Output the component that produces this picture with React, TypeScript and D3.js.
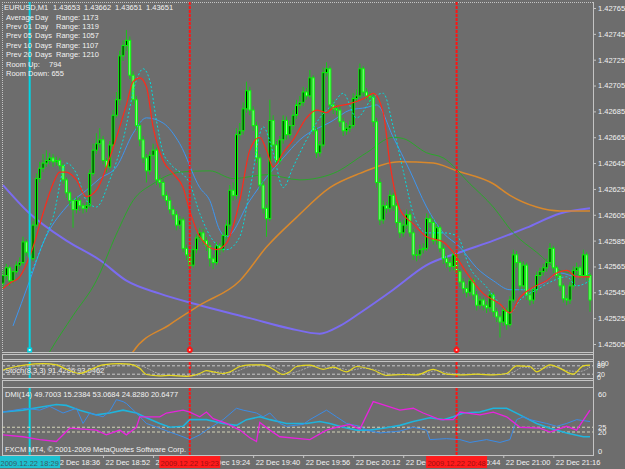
import React, { useEffect, useRef } from 'react'
import * as d3 from 'd3'

// EURUSD M1 bars
const opens = [
  1.42552, 1.42558, 1.42564, 1.42554, 1.42561, 1.42566, 1.42568, 1.42584, 1.42576, 1.42571,
  1.42597, 1.42633, 1.42641, 1.42645, 1.42647, 1.42649, 1.42646, 1.42647, 1.42643, 1.42632,
  1.42622, 1.42616, 1.42609, 1.42616, 1.42612, 1.4261, 1.42612, 1.42637, 1.42655, 1.4266,
  1.42663, 1.42647, 1.42642, 1.42659, 1.42682, 1.42694, 1.42728, 1.42736, 1.4274, 1.42713,
  1.42694, 1.42674, 1.42663, 1.42649, 1.42639, 1.42651, 1.42655, 1.42632, 1.4263, 1.4262,
  1.42616, 1.42609, 1.42605, 1.42597, 1.42601, 1.42579, 1.42574, 1.42566, 1.42578, 1.42587,
  1.42591, 1.42585, 1.42581, 1.42571, 1.42568, 1.42581, 1.42578, 1.42589, 1.42597, 1.42624,
  1.4262, 1.42667, 1.4267, 1.42687, 1.42701, 1.42686, 1.42674, 1.42649, 1.42628, 1.4261,
  1.42602, 1.42678, 1.42659, 1.42647, 1.42663, 1.42678, 1.42667, 1.42674, 1.42682, 1.4269,
  1.42692, 1.427, 1.42697, 1.42711, 1.4267, 1.42653, 1.42659, 1.42715, 1.42718, 1.4269,
  1.42687, 1.42686, 1.42677, 1.4267, 1.42672, 1.42674, 1.42695, 1.42697, 1.42718, 1.427,
  1.42697, 1.42696, 1.42677, 1.4263, 1.42601, 1.42612, 1.4261, 1.4262, 1.42612, 1.42599,
  1.42591, 1.42597, 1.42605, 1.42591, 1.42574, 1.42574, 1.42578, 1.42579, 1.42602, 1.42599,
  1.42585, 1.42595, 1.42579, 1.42571, 1.42568, 1.42565, 1.42574, 1.42561, 1.42553, 1.42548,
  1.42545, 1.42554, 1.42543, 1.42535, 1.42539, 1.42535, 1.42533, 1.42543, 1.4253, 1.42526,
  1.42522, 1.42531, 1.4252, 1.42539, 1.42574, 1.42568, 1.4255, 1.42566, 1.42543, 1.42539,
  1.42547, 1.42558, 1.42561, 1.42564, 1.42568, 1.42579, 1.42564, 1.42558, 1.4255, 1.4254,
  1.42539, 1.4255, 1.42562, 1.42564, 1.42558, 1.42574, 1.42558,
]
const highs = [
  1.42562, 1.42567, 1.42566, 1.42563, 1.42569, 1.42572, 1.42588, 1.42586, 1.42578, 1.426,
  1.42637, 1.42646, 1.42652, 1.42655, 1.42653, 1.42652, 1.4265, 1.42649, 1.42645, 1.42634,
  1.42624, 1.42618, 1.42619, 1.42618, 1.42614, 1.42615, 1.4264, 1.4266, 1.42668, 1.42672,
  1.42666, 1.42649, 1.42662, 1.42686, 1.427, 1.42732, 1.4274, 1.42748, 1.42743, 1.42716,
  1.42697, 1.42677, 1.42666, 1.42652, 1.42654, 1.4266, 1.42657, 1.42636, 1.42633, 1.42623,
  1.42619, 1.42612, 1.42608, 1.42604, 1.42603, 1.42582, 1.42577, 1.42581, 1.4259, 1.42595,
  1.42594, 1.42588, 1.42584, 1.42574, 1.42584, 1.42583, 1.42592, 1.42601, 1.42628, 1.4263,
  1.42672, 1.42676, 1.42692, 1.42708, 1.42704, 1.42689, 1.42677, 1.42652, 1.42631, 1.42613,
  1.42694, 1.42682, 1.42662, 1.42666, 1.42682, 1.42681, 1.42678, 1.42686, 1.42694, 1.42697,
  1.42704, 1.42703, 1.42717, 1.42713, 1.42673, 1.42662, 1.42719, 1.42723, 1.4272, 1.42694,
  1.4269, 1.42689, 1.4268, 1.42676, 1.42678, 1.42699, 1.42702, 1.42722, 1.4272, 1.42703,
  1.427, 1.42699, 1.4268, 1.42633, 1.42616, 1.42615, 1.42624, 1.42622, 1.42614, 1.42602,
  1.42601, 1.42609, 1.42608, 1.42594, 1.42578, 1.42582, 1.42583, 1.42606, 1.42605, 1.42602,
  1.42598, 1.42597, 1.42582, 1.42574, 1.42571, 1.42577, 1.42577, 1.42563, 1.42556, 1.42551,
  1.42557, 1.42556, 1.42546, 1.42542, 1.42541, 1.42538, 1.42546, 1.42545, 1.42533, 1.42528,
  1.42534, 1.42533, 1.42542, 1.42578, 1.42577, 1.4257, 1.42569, 1.42568, 1.42546, 1.4255,
  1.42561, 1.42564, 1.42567, 1.42571, 1.42583, 1.42581, 1.42566, 1.42561, 1.42552, 1.42543,
  1.42553, 1.42565, 1.42568, 1.42566, 1.42578, 1.42576, 1.4256,
]
const lows = [
  1.42548, 1.42555, 1.4255, 1.42552, 1.42559, 1.42563, 1.42566, 1.42573, 1.42566, 1.42569,
  1.42595, 1.4263, 1.42638, 1.42642, 1.42644, 1.42642, 1.42643, 1.4264, 1.42629, 1.42618,
  1.42612, 1.42595, 1.42606, 1.42608, 1.42606, 1.42607, 1.4261, 1.42635, 1.42652, 1.42657,
  1.42644, 1.42638, 1.4264, 1.42657, 1.4268, 1.4269, 1.42724, 1.42732, 1.4271, 1.4269,
  1.4267, 1.42658, 1.42645, 1.4263, 1.42636, 1.42648, 1.42628, 1.42626, 1.42617, 1.42612,
  1.42606, 1.42601, 1.42593, 1.42594, 1.42576, 1.4257, 1.42562, 1.42564, 1.42575, 1.42584,
  1.42582, 1.42577, 1.42565, 1.42563, 1.42566, 1.42574, 1.42576, 1.42586, 1.42594, 1.42616,
  1.42617, 1.42663, 1.42667, 1.42684, 1.42682, 1.4267, 1.42645, 1.42624, 1.42606, 1.42588,
  1.426, 1.42655, 1.42642, 1.42644, 1.4266, 1.42663, 1.42664, 1.42671, 1.42679, 1.42687,
  1.42689, 1.42694, 1.42695, 1.42667, 1.42649, 1.4265, 1.42657, 1.42712, 1.42686, 1.42683,
  1.42682, 1.42673, 1.42666, 1.42667, 1.42669, 1.42672, 1.42692, 1.42695, 1.42697, 1.42694,
  1.42692, 1.42673, 1.42626, 1.42597, 1.42598, 1.42606, 1.42607, 1.42608, 1.42595, 1.42587,
  1.42588, 1.42594, 1.42588, 1.4257, 1.42569, 1.42571, 1.42575, 1.42577, 1.42595, 1.42582,
  1.42582, 1.42576, 1.42567, 1.42564, 1.42561, 1.42562, 1.42557, 1.42549, 1.42544, 1.42541,
  1.42542, 1.42539, 1.42531, 1.42532, 1.42531, 1.42529, 1.4253, 1.42526, 1.42522, 1.4251,
  1.42519, 1.42516, 1.42518, 1.42537, 1.42564, 1.42546, 1.42547, 1.42539, 1.42535, 1.42536,
  1.42544, 1.42555, 1.42558, 1.42561, 1.42566, 1.4256, 1.42555, 1.42546, 1.42537, 1.42535,
  1.42536, 1.42547, 1.42559, 1.42555, 1.42556, 1.42554, 1.4253,
]
const closes = [
  1.42558, 1.42564, 1.42554, 1.42561, 1.42566, 1.42568, 1.42584, 1.42576, 1.42571, 1.42597,
  1.42633, 1.42641, 1.42645, 1.42647, 1.42649, 1.42646, 1.42647, 1.42643, 1.42632, 1.42622,
  1.42616, 1.42609, 1.42616, 1.42612, 1.4261, 1.42612, 1.42637, 1.42655, 1.4266, 1.42663,
  1.42647, 1.42642, 1.42659, 1.42682, 1.42694, 1.42728, 1.42736, 1.4274, 1.42713, 1.42694,
  1.42674, 1.42663, 1.42649, 1.42639, 1.42651, 1.42655, 1.42632, 1.4263, 1.4262, 1.42616,
  1.42609, 1.42605, 1.42597, 1.42601, 1.42579, 1.42574, 1.42566, 1.42578, 1.42587, 1.42591,
  1.42585, 1.42581, 1.42571, 1.42568, 1.42581, 1.42578, 1.42589, 1.42597, 1.42624, 1.4262,
  1.42667, 1.4267, 1.42687, 1.42701, 1.42686, 1.42674, 1.42649, 1.42628, 1.4261, 1.42602,
  1.42678, 1.42659, 1.42647, 1.42663, 1.42678, 1.42667, 1.42674, 1.42682, 1.4269, 1.42692,
  1.427, 1.42697, 1.42711, 1.4267, 1.42653, 1.42659, 1.42715, 1.42718, 1.4269, 1.42687,
  1.42686, 1.42677, 1.4267, 1.42672, 1.42674, 1.42695, 1.42697, 1.42718, 1.427, 1.42697,
  1.42696, 1.42677, 1.4263, 1.42601, 1.42612, 1.4261, 1.4262, 1.42612, 1.42599, 1.42591,
  1.42597, 1.42605, 1.42591, 1.42574, 1.42574, 1.42578, 1.42579, 1.42602, 1.42599, 1.42585,
  1.42595, 1.42579, 1.42571, 1.42568, 1.42565, 1.42574, 1.42561, 1.42553, 1.42548, 1.42545,
  1.42554, 1.42543, 1.42535, 1.42539, 1.42535, 1.42533, 1.42543, 1.4253, 1.42526, 1.42522,
  1.42531, 1.4252, 1.42539, 1.42574, 1.42568, 1.4255, 1.42566, 1.42543, 1.42539, 1.42547,
  1.42558, 1.42561, 1.42564, 1.42568, 1.42579, 1.42564, 1.42558, 1.4255, 1.4254, 1.42539,
  1.4255, 1.42562, 1.42564, 1.42558, 1.42574, 1.42558, 1.42539,
]

// moving averages on the price window: [bar, price]
const maRed: [number, number][] = [
  [0, 1.42548], [2, 1.42552], [5, 1.42557], [9, 1.4258], [12, 1.42606], [15, 1.42629], [17, 1.42638],
  [19, 1.42638], [22, 1.42632], [25, 1.42619], [28, 1.42624], [32, 1.42649], [35, 1.42673],
  [37, 1.4269], [39, 1.42708], [41, 1.42711], [43, 1.42704], [45, 1.42673], [48, 1.42647],
  [51, 1.42637], [54, 1.42626], [56, 1.42608], [59, 1.42588], [64, 1.42578], [67, 1.42583],
  [71, 1.42616], [74, 1.42655], [77, 1.42665], [79, 1.42655], [81, 1.42642], [84, 1.42653],
  [87, 1.42663], [91, 1.4268], [94, 1.42686], [97, 1.42684], [99, 1.42688], [104, 1.42691],
  [109, 1.42696], [111, 1.42699], [114, 1.42684], [116, 1.42645], [119, 1.42609], [123, 1.42598],
  [127, 1.42588], [132, 1.42584], [135, 1.42576], [139, 1.4256], [144, 1.42544], [149, 1.42536],
  [152, 1.42529], [155, 1.42541], [159, 1.42549], [163, 1.42554], [166, 1.4256], [169, 1.42562],
  [172, 1.42557], [176, 1.42557],
]
const maCyan: [number, number][] = [
  [8, 1.42557], [12, 1.42583], [15, 1.42603], [19, 1.42645], [22, 1.42637], [25, 1.42616],
  [28, 1.42611], [32, 1.42632], [36, 1.42663], [40, 1.42709], [42, 1.42718], [44, 1.42709],
  [46, 1.42678], [48, 1.42653], [50, 1.42645], [56, 1.42629], [59, 1.42606], [63, 1.42585],
  [67, 1.42578], [71, 1.42588], [74, 1.42624], [78, 1.42673], [81, 1.42653], [84, 1.42626],
  [87, 1.42642], [91, 1.42663], [95, 1.4268], [99, 1.42691], [102, 1.42699], [106, 1.4268],
  [111, 1.42696], [114, 1.42699], [117, 1.42673], [120, 1.42639], [123, 1.42606], [127, 1.42591],
  [132, 1.42591], [136, 1.42589], [140, 1.42564], [145, 1.42549], [149, 1.42536], [152, 1.42529],
  [155, 1.42539], [160, 1.42547], [165, 1.42554], [169, 1.42557], [172, 1.4255], [176, 1.42554],
]
const maBlue: [number, number][] = [
  [3, 1.42519], [8, 1.42554], [12, 1.42583], [19, 1.42611], [25, 1.42624], [29, 1.42633],
  [34, 1.42642], [39, 1.42668], [43, 1.4268], [48, 1.42676], [53, 1.4266], [59, 1.42626],
  [62, 1.42616], [65, 1.42593], [67, 1.42588], [74, 1.42616], [79, 1.42634], [84, 1.42649],
  [89, 1.42663], [99, 1.42678], [104, 1.42686], [109, 1.42688], [112, 1.4269], [117, 1.42665],
  [122, 1.42639], [127, 1.42611], [132, 1.42591], [137, 1.4258], [142, 1.42564], [147, 1.42554],
  [152, 1.42547], [157, 1.42547], [162, 1.42552], [167, 1.4256], [172, 1.42557], [176, 1.4256],
]
const maGreen: [number, number][] = [
  [12, 1.4249], [14, 1.42499], [21, 1.42527], [28, 1.42554], [34, 1.4259], [39, 1.42616],
  [45, 1.42629], [53, 1.42638], [62, 1.42639], [69, 1.42633], [79, 1.42636], [89, 1.42632],
  [99, 1.42637], [109, 1.42653], [117, 1.42665], [120, 1.42664], [127, 1.42653], [132, 1.42649],
  [140, 1.42629], [147, 1.42611], [153, 1.42591], [160, 1.42576], [167, 1.42562], [176, 1.42558],
]
const maOrange: [number, number][] = [
  [37, 1.4249], [39, 1.42499], [50, 1.4252], [59, 1.42535], [71, 1.42554], [79, 1.4258],
  [88, 1.42603], [98, 1.42626], [107, 1.42637], [119, 1.42646], [129, 1.42645], [136, 1.42639],
  [147, 1.42629], [152, 1.4262], [160, 1.42611], [167, 1.42608], [176, 1.42608],
]
const maPurple: [number, number][] = [
  [0, 1.42628], [8, 1.42606], [19, 1.42585], [29, 1.4257], [37, 1.42554], [47, 1.42544],
  [59, 1.42535], [74, 1.42525], [86, 1.42517], [95, 1.42513], [101, 1.42519], [107, 1.42529],
  [117, 1.42547], [127, 1.42566], [137, 1.42576], [147, 1.42585], [157, 1.42595], [167, 1.42606],
  [176, 1.4261],
]

// Stochastic(8,3,3): [bar, value]
const stochMain: [number, number][] = [
  [0, 50], [4, 75], [7, 87], [12, 95], [16, 87], [19, 55], [23, 25], [26, 50], [30, 87], [35, 95],
  [38, 92], [41, 62], [43, 18], [47, 8], [50, 12], [55, 5], [59, 25], [61, 45], [63, 37], [66, 25],
  [68, 37], [71, 75], [74, 87], [78, 87], [81, 55], [84, 18], [86, 37], [88, 75], [92, 85], [96, 55],
  [99, 70], [103, 37], [106, 75], [111, 50], [115, 12], [120, 18], [124, 15], [129, 55], [133, 20],
  [137, 15], [142, 20], [147, 15], [151, 25], [154, 80], [158, 75], [160, 37], [164, 87], [167, 62],
  [171, 20], [174, 80], [176, 85],
]
const stochSignal: [number, number][] = [
  [0, 45], [5, 65], [9, 82], [14, 92], [18, 85], [21, 60], [25, 35], [28, 45], [32, 75], [37, 90],
  [40, 88], [43, 65], [46, 30], [49, 12], [53, 10], [57, 10], [61, 22], [64, 38], [67, 32], [70, 40],
  [73, 70], [77, 85], [80, 80], [83, 55], [86, 28], [89, 45], [92, 72], [95, 80], [98, 62], [101, 62],
  [104, 48], [108, 62], [113, 45], [117, 18], [122, 16], [126, 25], [130, 45], [134, 28], [139, 17],
  [144, 18], [149, 17], [153, 35], [156, 70], [160, 60], [163, 65], [166, 75], [169, 45], [173, 40],
  [176, 70],
]

// DMI(14): [bar, value]
const dmiMagenta: [number, number][] = [
  [0, 17], [6, 15], [11, 12], [16, 10], [20, 24], [28, 22], [31, 17], [35, 22], [37, 17], [40, 25],
  [41, 36], [47, 36], [49, 40], [54, 43], [56, 41], [59, 36], [61, 41], [63, 34], [67, 29], [71, 22],
  [74, 14], [76, 10], [77, 30], [80, 22], [83, 15], [92, 12], [97, 22], [100, 25], [104, 28],
  [107, 23], [111, 52], [119, 43], [123, 45], [126, 40], [131, 33], [135, 33], [137, 41], [143, 38],
  [147, 41], [151, 36], [155, 25], [161, 24], [164, 20], [169, 26], [172, 22], [176, 43],
]
const dmiBlue: [number, number][] = [
  [0, 41], [7, 45], [11, 43], [14, 47], [18, 40], [22, 45], [24, 29], [26, 40], [30, 36], [32, 42],
  [34, 54], [36, 52], [37, 50], [40, 40], [43, 29], [47, 24], [50, 20], [54, 15], [56, 12], [59, 17],
  [61, 22], [66, 33], [70, 45], [72, 43], [76, 40], [78, 36], [80, 40], [83, 29], [85, 26], [90, 28],
  [92, 33], [97, 43], [100, 36], [103, 29], [107, 26], [109, 22], [113, 19], [119, 21], [123, 25],
  [127, 22], [128, 12], [133, 13], [137, 12], [140, 9], [145, 12], [149, 9], [152, 12], [154, 33],
  [156, 36], [158, 33], [163, 29], [166, 26], [169, 29], [172, 33], [176, 31],
]
const dmiAdx: [number, number][] = [
  [0, 41], [6, 43], [11, 46], [16, 49], [19, 48], [23, 43], [28, 38], [32, 40], [36, 43], [40, 40],
  [43, 35], [47, 29], [50, 25], [54, 26], [56, 33], [61, 33], [66, 29], [70, 27], [73, 33], [77, 36],
  [80, 33], [85, 29], [91, 29], [95, 31], [98, 29], [102, 25], [106, 22], [110, 22], [114, 24],
  [119, 27], [123, 31], [128, 35], [132, 33], [135, 36], [138, 40], [143, 41], [147, 45], [151, 45],
  [155, 38], [160, 29], [164, 24], [169, 19], [174, 15], [176, 15],
]

const priceTicks = [
  1.42765, 1.42745, 1.42725, 1.42705, 1.42685, 1.42665, 1.42645,
  1.42625, 1.42605, 1.42585, 1.42565, 1.42545, 1.42525, 1.42505,
]
const timeTickBars = [0, 15, 30, 45, 60, 75, 90, 105, 120, 135, 150, 165]
const timeTickLabels = [
  '22 Dec 18:20', '22 Dec 18:36', '22 Dec 18:52', '22 Dec 19:08', '22 Dec 19:24', '22 Dec 19:40',
  '22 Dec 19:56', '22 Dec 20:12', '22 Dec 20:28', '22 Dec 20:44', '22 Dec 21:00', '22 Dec 21:16',
]
// vertical line objects
const vlines = [
  { bar: 8, color: '#00d4e4', label: '2009.12.22 18:29', box: '#1ec0d0', text: '#3c5a60' },
  { bar: 56, color: '#ff1414', label: '2009.12.22 19:23', box: '#ff1c1c', text: '#a01010' },
  { bar: 136, color: '#ff1414', label: '2009.12.22 20:48', box: '#ff1c1c', text: '#a01010' },
]

const header = ['EURUSD,M1', '1.43653', '1.43662', '1.43651', '1.43651']
const rangeRows = [
  ['Average', 'Day', 'Range: 1173'],
  ['Prev 01', 'Day', 'Range: 1319'],
  ['Prev 05', 'Days', 'Range: 1057'],
  ['Prev 10', 'Days', 'Range: 1107'],
  ['Prev 20', 'Days', 'Range: 1210'],
]
const roomUp = 794
const roomDown = 655

const BG = '#6d6d6d'
const FRAME = '#c4c4c4'
const TXT = '#f2f2f2'
const FONT = '"Liberation Sans", Arial, sans-serif'

export default function App() {
  const ref = useRef<SVGSVGElement>(null)

  useEffect(() => {
    const svg = d3.select(ref.current)
    svg.selectAll('*').remove()

    const L = 2
    const R = 593
    const x = d3.scaleLinear().domain([0, closes.length - 1]).range([3, 590])
    const y = d3.scaleLinear().domain([1.42505, 1.42765]).range([344, 8])
    const yS = d3.scaleLinear().domain([0, 100]).range([377, 363])
    const yD = d3.scaleLinear().domain([0, 60]).range([451, 394])

    svg.append('rect').attr('width', 625).attr('height', 469).attr('fill', BG)

    const defs = svg.append('defs')
    const addClip = (id: string, y0: number, y1: number) =>
      defs.append('clipPath').attr('id', id)
        .append('rect').attr('x', L).attr('y', y0).attr('width', R - L).attr('height', y1 - y0)
    addClip('cMain', 3, 352)
    addClip('cStoch', 362, 378)
    addClip('cDmi', 388, 455)

    // ---- frames
    const fr = svg.append('g').attr('fill', 'none').attr('stroke', FRAME).attr('stroke-width', 1)
    fr.append('line').attr('x1', L + 0.5).attr('x2', L + 0.5).attr('y1', 2).attr('y2', 352)
      .attr('stroke-dasharray', '1,1')
    fr.append('line').attr('x1', L).attr('x2', R).attr('y1', 2.5).attr('y2', 2.5).attr('stroke-dasharray', '1,1')
    ;[352.5, 354.5, 359.5, 361.5, 378.5, 380.5, 387.5, 455.5].forEach(yy =>
      fr.append('line').attr('x1', L).attr('x2', R).attr('y1', yy).attr('y2', yy))
    ;[[354, 360], [361, 379], [380, 456]].forEach(([a, b]) =>
      fr.append('line').attr('x1', L + 0.5).attr('x2', L + 0.5).attr('y1', a).attr('y2', b))
    fr.append('line').attr('x1', R + 0.5).attr('x2', R + 0.5).attr('y1', 2).attr('y2', 456)

    // ---- main panel
    const main = svg.append('g').attr('clip-path', 'url(#cMain)')
    const line = (yy: d3.ScaleLinear<number, number>, curve = d3.curveMonotoneX) =>
      d3.line<[number, number]>().x(d => x(d[0])).y(d => yy(d[1])).curve(curve)

    main.append('path').attr('d', line(y)(maPurple)).attr('fill', 'none')
      .attr('stroke', '#7b6cf0').attr('stroke-width', 2)
    main.append('path').attr('d', line(y)(maOrange)).attr('fill', 'none')
      .attr('stroke', '#d8882c').attr('stroke-width', 1.5)
    main.append('path').attr('d', line(y)(maGreen)).attr('fill', 'none')
      .attr('stroke', '#2aa82a').attr('stroke-width', 1)
    main.append('path').attr('d', line(y)(maBlue)).attr('fill', 'none')
      .attr('stroke', '#3e96f0').attr('stroke-width', 1)

    const idx = d3.range(closes.length)
    main.selectAll('line.wick').data(idx).join('line')
      .attr('x1', i => x(i)).attr('x2', i => x(i))
      .attr('y1', i => y(highs[i])).attr('y2', i => y(lows[i]))
      .attr('stroke', '#18c818').attr('stroke-width', 1)
    main.selectAll('rect.body').data(idx).join('rect')
      .attr('x', i => x(i) - 1).attr('width', 2)
      .attr('y', i => y(Math.max(opens[i], closes[i])))
      .attr('height', i => Math.max(0.6, Math.abs(y(opens[i]) - y(closes[i]))))
      .attr('fill', i => (closes[i] >= opens[i] ? '#000' : '#98f898'))
      .attr('stroke', '#00ff00').attr('stroke-width', 1)

    main.append('path').attr('d', line(y)(maCyan)).attr('fill', 'none')
      .attr('stroke', '#00dede').attr('stroke-width', 1).attr('stroke-dasharray', '2,2')
    main.append('path').attr('d', line(y)(maRed)).attr('fill', 'none')
      .attr('stroke', '#ff2a1a').attr('stroke-width', 1.2)

    // vertical lines through each panel
    const vpanels = [[2, 352], [362, 378], [388, 455]]
    vlines.forEach(v => {
      vpanels.forEach(([a, b]) => {
        svg.append('line').attr('x1', x(v.bar)).attr('x2', x(v.bar)).attr('y1', a).attr('y2', b)
          .attr('stroke', v.color).attr('stroke-width', 2)
          .attr('stroke-dasharray', v.bar === 8 ? null : '3,1')
      })
    })
    vlines.forEach(v => {
      const cx = x(v.bar)
      if (v.bar === 8) {
        svg.append('rect').attr('x', cx - 2.5).attr('y', 347.5).attr('width', 5).attr('height', 5)
          .attr('fill', v.color)
        svg.append('rect').attr('x', cx - 1).attr('y', 349).attr('width', 2).attr('height', 2).attr('fill', '#e8ffff')
      } else {
        svg.append('circle').attr('cx', cx).attr('cy', 350).attr('r', 3).attr('fill', v.color)
        svg.append('circle').attr('cx', cx).attr('cy', 350).attr('r', 1).attr('fill', '#ffd0d0')
      }
    })

    // price axis
    const ya = svg.append('g').attr('transform', `translate(${R},0)`)
      .call(d3.axisRight(y).tickValues(priceTicks).tickSize(3).tickPadding(2)
        .tickFormat(d => (d as number).toFixed(5)))
    ya.select('.domain').remove()
    ya.selectAll('line').attr('stroke', FRAME)
    ya.selectAll('text').attr('fill', TXT).style('font', `7.5px ${FONT}`)

    // ---- info text
    const t = svg.append('g').attr('fill', TXT).style('font', `7.5px ${FONT}`)
    const hx = [4, 53, 84, 115, 146]
    header.forEach((s, i) => t.append('text').attr('x', hx[i]).attr('y', 10).text(s))
    rangeRows.forEach((r, i) => {
      const yy = 19.5 + i * 9.4
      t.append('text').attr('x', 6).attr('y', yy).text(r[0])
      t.append('text').attr('x', 35).attr('y', yy).text(r[1])
      t.append('text').attr('x', 56).attr('y', yy).text(r[2])
    })
    t.append('text').attr('x', 6).attr('y', 19.5 + 5 * 9.4).text('Room Up:')
    t.append('text').attr('x', 49).attr('y', 19.5 + 5 * 9.4).text(String(roomUp))
    t.append('text').attr('x', 6).attr('y', 19.5 + 6 * 9.4).text(`Room Down: ${roomDown}`)

    // ---- stochastic
    const st = svg.append('g').attr('clip-path', 'url(#cStoch)')
    ;[80, 20].forEach(lv => st.append('line').attr('x1', L).attr('x2', R)
      .attr('y1', yS(lv)).attr('y2', yS(lv)).attr('stroke', '#c8c8c8').attr('stroke-dasharray', '3,2'))
    st.append('path').attr('d', line(yS)(stochSignal)).attr('fill', 'none')
      .attr('stroke', '#a8a8a8').attr('stroke-width', 1).attr('stroke-dasharray', '2,1')
    st.append('path').attr('d', line(yS)(stochMain)).attr('fill', 'none')
      .attr('stroke', '#e6d820').attr('stroke-width', 1.2)
    t.append('text').attr('x', 5).attr('y', 373).text('Stoch(8,3,3) 91.4286 93.0462')
    const sl = svg.append('g').attr('fill', TXT).style('font', `7px ${FONT}`)
    ;[[100, '100'], [80, '80'], [20, '20'], [0, '0']].forEach(([v, s]) =>
      sl.append('text').attr('x', 597).attr('y', yS(v as number) + 2.5).text(s as string))

    // ---- DMI
    const dm = svg.append('g').attr('clip-path', 'url(#cDmi)')
    ;[25, 20].forEach(lv => dm.append('line').attr('x1', L).attr('x2', R)
      .attr('y1', yD(lv)).attr('y2', yD(lv)).attr('stroke', '#d4d4b8').attr('stroke-dasharray', '3,2'))
    dm.append('path').attr('d', line(yD, d3.curveLinear)(dmiAdx)).attr('fill', 'none')
      .attr('stroke', '#1fb4dc').attr('stroke-width', 1.6)
    dm.append('path').attr('d', line(yD, d3.curveLinear)(dmiBlue)).attr('fill', 'none')
      .attr('stroke', '#3c8ce6').attr('stroke-width', 1)
    dm.append('path').attr('d', line(yD, d3.curveLinear)(dmiMagenta)).attr('fill', 'none')
      .attr('stroke', '#e624dc').attr('stroke-width', 1.3)
    t.append('text').attr('x', 5).attr('y', 397).text('DMI(14) 49.7003 15.2384 53.0684 24.8280 20.6477')
    t.append('text').attr('x', 5).attr('y', 452).text('FXCM MT4, © 2001-2009 MetaQuotes Software Corp.')
    const dl = svg.append('g').attr('fill', TXT).style('font', `7.5px ${FONT}`)
    ;[[60, '60'], [25, '25'], [20, '20'], [0, '0']].forEach(([v, s]) =>
      dl.append('text').attr('x', 598).attr('y', yD(v as number) + 2.5).text(s as string))

    // ---- time axis
    const xa = svg.append('g').attr('transform', 'translate(0,455)')
      .call(d3.axisBottom(x).tickValues(timeTickBars).tickSize(3).tickPadding(2)
        .tickFormat((_, i) => timeTickLabels[i]))
    xa.select('.domain').remove()
    xa.selectAll('line').attr('stroke', FRAME)
    xa.selectAll('text').attr('fill', TXT).attr('text-anchor', 'start').attr('dx', 2)
      .style('font', `7.5px ${FONT}`)

    // the label boxes of the vertical lines cover the tick labels below them
    vlines.forEach(v => {
      const cx = x(v.bar)
      svg.append('rect').attr('x', cx - 30.5).attr('y', 456).attr('width', 61).attr('height', 12)
        .attr('fill', v.box)
      svg.append('text').attr('x', cx).attr('y', 465.5).attr('text-anchor', 'middle')
        .attr('fill', v.text).style('font', `7.5px ${FONT}`).text(v.label)
    })
  }, [])

  return (
    <svg
      ref={ref}
      width={625}
      height={469}
      style={{ position: 'fixed', left: 0, top: 0, display: 'block' }}
    />
  )
}
